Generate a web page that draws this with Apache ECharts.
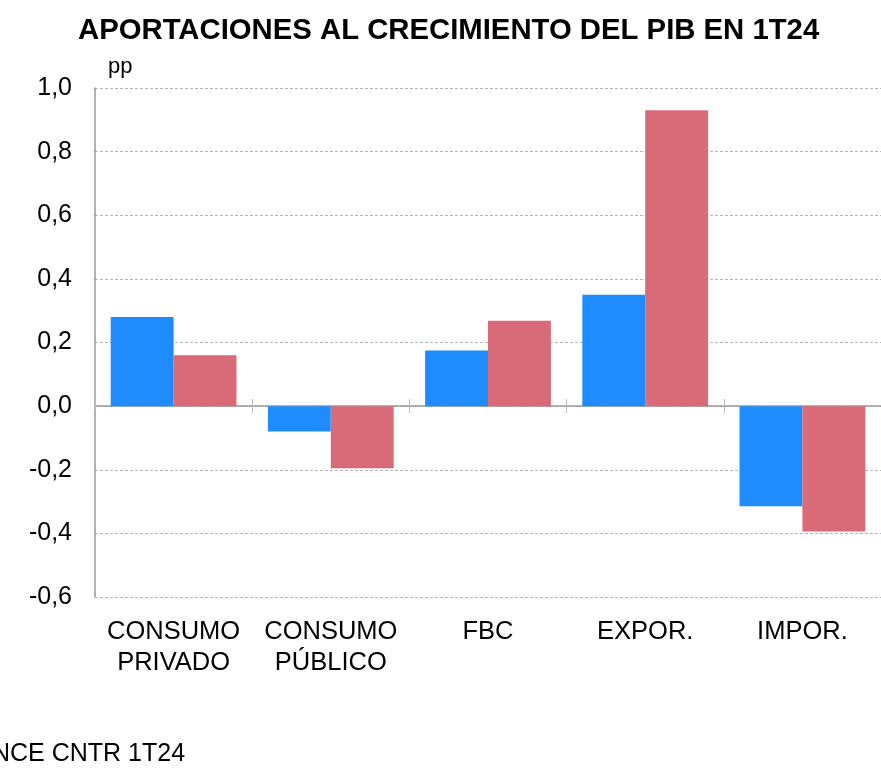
<!DOCTYPE html>
<html>
<head>
<meta charset="utf-8">
<script src="https://cdn.jsdelivr.net/npm/echarts@6/dist/echarts.min.js"></script>
<style>
  html, body { margin: 0; padding: 0; background: #fff; }
  #chart { width: 881px; height: 770px; }
</style>
</head>
<body>
<div id="chart"></div>
<script>
const categories = ["CONSUMO\nPRIVADO", "CONSUMO\nPÚBLICO", "FBC", "EXPOR.", "IMPOR."];
const serieA = [0.28, -0.08, 0.175, 0.35, -0.315];
const serieB = [0.16, -0.195, 0.268, 0.93, -0.394];
const yTicks = { min: -0.6, max: 1.0, interval: 0.2 };

const font = "Liberation Sans";
const grey = "#9a9a9a";

const chart = echarts.init(document.getElementById("chart"));

// ejes auxiliares: línea del cero con marcas hacia arriba y hacia abajo
const tickAxis = (inside, yIdx) => ({
  type: "category",
  data: categories,
  position: "bottom",
  axisLine: { show: inside, onZero: true, onZeroAxisIndex: yIdx, lineStyle: { color: grey, width: 1.5 } },
  axisTick: { show: true, inside: inside, length: 7, lineStyle: { color: "#bbb" } },
  axisLabel: { show: false }
});

const option = {
  animation: false,
  title: {
    text: "APORTACIONES AL CRECIMIENTO DEL PIB EN 1T24",
    left: 73,
    top: 11,
    textStyle: { fontFamily: font, fontWeight: "bold", fontSize: 29.3, color: "#000" }
  },
  graphic: [
    { type: "text", left: 108, top: 56, style: { text: "pp", font: "22px " + font, fill: "#000" } },
    { type: "text", left: -8, top: 742, style: { text: "NCE CNTR 1T24", font: "25px " + font, fill: "#000" } }
  ],
  grid: { left: 95, right: -1, top: 88, bottom: 173, containLabel: false },
  xAxis: [
    {
      type: "category",
      data: categories,
      position: "bottom",
      axisLine: { show: false, onZero: false },
      axisTick: { show: false },
      axisLabel: { fontFamily: font, fontSize: 25.5, color: "#000", margin: 19, lineHeight: 31, interval: 0 }
    },
    tickAxis(true, 0),
    tickAxis(false, 1)
  ],
  yAxis: [
    {
      type: "value",
      min: yTicks.min,
      max: yTicks.max,
      interval: yTicks.interval,
      axisLine: { show: true, lineStyle: { color: grey, width: 1.5 } },
      axisTick: { show: false },
      splitLine: { lineStyle: { color: "#b5b5b5", type: [3, 2] } },
      axisLabel: {
        fontFamily: font, fontSize: 25, color: "#000", margin: 23,
        formatter: v => v.toFixed(1).replace(".", ",")
      }
    },
    {
      type: "value",
      min: yTicks.min,
      max: yTicks.max,
      interval: yTicks.interval,
      position: "right",
      axisLine: { show: false },
      axisTick: { show: false },
      axisLabel: { show: false },
      splitLine: { show: false }
    }
  ],
  series: [
    {
      type: "bar", data: serieA, xAxisIndex: 0, yAxisIndex: 0,
      barGap: "0%", barCategoryGap: "20%",
      itemStyle: { color: "#1e8cff" }
    },
    {
      type: "bar", data: serieB, xAxisIndex: 0, yAxisIndex: 0,
      barGap: "0%", barCategoryGap: "20%",
      itemStyle: { color: "#d96b78" }
    }
  ]
};

chart.setOption(option);
</script>
</body>
</html>
